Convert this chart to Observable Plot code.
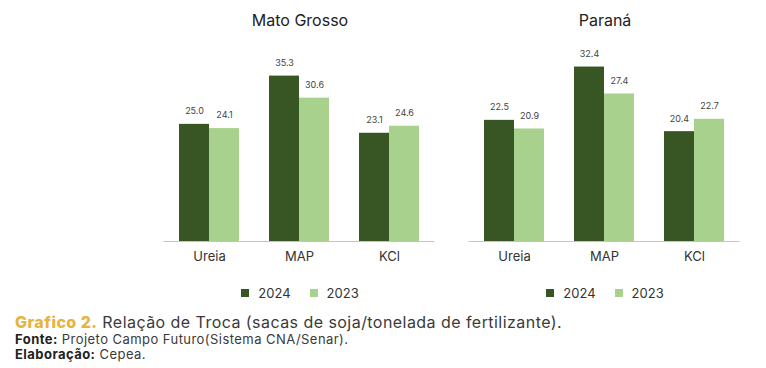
<!DOCTYPE html>
<html>
<head>
<meta charset="utf-8">
<script src="https://cdn.jsdelivr.net/npm/d3@7"></script>
<script src="https://cdn.jsdelivr.net/npm/@observablehq/plot@0.6"></script>
<style>
  html, body { margin: 0; padding: 0; background: #fff; }
  #root { position: relative; width: 766px; height: 368px; overflow: hidden; font-family: Inter, "DejaVu Sans", sans-serif; color: #333; }
  .panel { position: absolute; top: 0; }
  .ptitle { position: absolute; top: 10px; width: 300px; text-align: center; font-size: 16px; color: #222; }
  .leg { position: absolute; top: 276px; width: 300px; display: flex; justify-content: center; }
  .lg-swatch { margin-right: 19px !important; }
  .lg-swatch:last-child { margin-right: 0 !important; }
  .lg-swatch > svg { margin-right: 9px !important; }
  .cap { position: absolute; left: 15px; top: 312px; font-size: 16px; letter-spacing: 0.45px; color: #3a3a3a; white-space: nowrap; }
  .cap b { color: #E6B43C; font-weight: 800; }
  .src { position: absolute; left: 15px; font-size: 13px; letter-spacing: 0.45px; color: #3a3a3a; white-space: nowrap; }
  .src b { color: #222; }
</style>
</head>
<body>
<div id="root">
  <div class="ptitle" style="left:150px">Mato Grosso</div>
  <div class="ptitle" style="left:455px">Paraná</div>
  <div class="panel" id="p1" style="left:150px"></div>
  <div class="panel" id="p2" style="left:455px"></div>
  <div class="leg" id="l1" style="left:150px"></div>
  <div class="leg" id="l2" style="left:455px"></div>
  <div class="cap"><b>Grafico 2.</b> Relação de Troca (sacas de soja/tonelada de fertilizante).</div>
  <div class="src" style="top:331px"><b>Fonte:</b> Projeto Campo Futuro(Sistema CNA/Senar).</div>
  <div class="src" style="top:346px"><b>Elaboração:</b> Cepea.</div>
</div>
<script>
const categories = ["Ureia", "MAP", "KCl"];
const years = ["2024", "2023"];
const yearColors = ["#375623", "#A9D18E"];
const matoGrosso2024 = [25.0, 35.3, 23.1];
const matoGrosso2023 = [24.1, 30.6, 24.6];
const parana2024 = [22.5, 32.4, 20.4];
const parana2023 = [20.9, 27.4, 22.7];

function panel(v24, v23, ymax) {
  const data = categories.flatMap((c, i) => [
    {cat: c, year: years[0], value: v24[i]},
    {cat: c, year: years[1], value: v23[i]}
  ]);
  return Plot.plot({
    width: 300, height: 270,
    marginLeft: 15, marginRight: 17, marginTop: 40, marginBottom: 29,
    style: {fontFamily: "Inter, 'DejaVu Sans', sans-serif", color: "#333", background: "transparent"},
    fx: {domain: categories, paddingInner: 0.331, paddingOuter: 0.146, label: null},
    x: {domain: years, padding: 0, axis: null},
    y: {domain: [0, ymax], axis: null},
    color: {domain: years, range: yearColors},
    marks: [
      Plot.barY(data, {fx: "cat", x: "year", y: "value", fill: "year"}),
      Plot.text(data, {fx: "cat", x: "year", y: "value", text: d => d.value.toFixed(1), dy: -13, fontSize: 9, fill: "#444"}),
      Plot.ruleY([0], {stroke: "#c4c4c4", strokeWidth: 1, insetLeft: -15.5, insetRight: -15.5}),
      Plot.axisFx({anchor: "bottom", tickSize: 0, tickPadding: 10, fontSize: 13, label: null})
    ]
  });
}

document.getElementById("p1").appendChild(panel(matoGrosso2024, matoGrosso2023, 42.9));
document.getElementById("p2").appendChild(panel(parana2024, parana2023, 37.33));

function legend() {
  return Plot.legend({
    color: {domain: years, range: yearColors},
    legend: "swatches", swatchSize: 8, className: "lg",
    style: {fontSize: "13px", fontFamily: "Inter, 'DejaVu Sans', sans-serif", color: "#333", marginLeft: "0px"}
  });
}
document.getElementById("l1").appendChild(legend());
document.getElementById("l2").appendChild(legend());
</script>
</body>
</html>
